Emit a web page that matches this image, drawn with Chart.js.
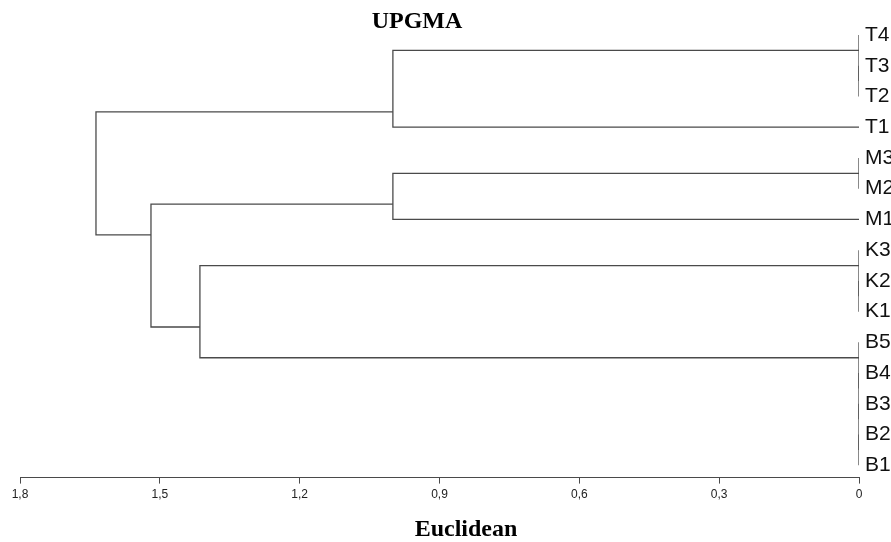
<!DOCTYPE html>
<html>
<head>
<meta charset="utf-8">
<title>UPGMA</title>
<script src="https://cdn.jsdelivr.net/npm/chart.js@4.4.1/dist/chart.umd.min.js"></script>
<style>
  html, body { margin: 0; padding: 0; background: #fff; }
  canvas { display: block; }
</style>
</head>
<body>
<canvas id="tree" width="891" height="542"></canvas>
<script>
// leaves, top to bottom
const leafNames = ['T4', 'T3', 'T2', 'T1', 'M3', 'M2', 'M1', 'K3', 'K2', 'K1', 'B5', 'B4', 'B3', 'B2', 'B1'];

// merge steps (linkage style): index < 15 is a leaf, 15 + i is the cluster from step i
const mergeA = [1, 0, 4, 8, 7, 13, 12, 11, 10, 16, 17, 19, 25, 24];
const mergeB = [2, 15, 5, 9, 18, 14, 20, 21, 22, 3, 6, 23, 26, 27];
const mergeHeight = [0, 0, 0, 0, 0, 0, 0, 0, 0, 1.0, 1.0, 1.414, 1.519, 1.637];

const xTicks = [0, 0.3, 0.6, 0.9, 1.2, 1.5, 1.8];

const nLeaves = leafNames.length;
const lineColor = '#4a4a4a';

// work out where each node sits: height and stem row
const nodeHeight = [];
const nodeRow = [];
const nodeLast = [];   // last leaf row under the node
for (let i = 0; i < nLeaves; i++) {
  nodeHeight[i] = 0;
  nodeRow[i] = i;
  nodeLast[i] = i;
}

const datasets = [];
mergeA.forEach((a, i) => {
  const b = mergeB[i];
  const id = nLeaves + i;
  const h = mergeHeight[i];
  nodeHeight[id] = h;
  nodeRow[id] = nodeLast[a] + 0.5;   // stem drawn between the two sub-clusters
  nodeLast[id] = nodeLast[b];
  datasets.push({
    data: [
      { x: nodeHeight[a], y: nodeRow[a] },
      { x: h, y: nodeRow[a] },
      { x: h, y: nodeRow[b] },
      { x: nodeHeight[b], y: nodeRow[b] }
    ],
    showLine: true,
    borderColor: lineColor,
    borderWidth: 1.3,
    pointRadius: 0,
    fill: false,
    tension: 0
  });
});

// title and axis caption
const captions = {
  id: 'captions',
  afterDraw(chart) {
    const { ctx, chartArea } = chart;
    ctx.save();
    ctx.fillStyle = '#000';
    ctx.textAlign = 'center';
    ctx.textBaseline = 'middle';
    ctx.font = 'bold 24px "Liberation Serif", "Times New Roman", serif';
    ctx.fillText('UPGMA', chartArea.left + 397, 22);
    ctx.fillText('Euclidean', chartArea.left + 446, 530);
    ctx.restore();
  }
};

new Chart(document.getElementById('tree'), {
  type: 'scatter',
  data: { datasets },
  options: {
    responsive: false,
    animation: false,
    layout: { padding: { left: 20, top: 19.65, right: 0, bottom: 36 } },
    plugins: {
      legend: { display: false },
      tooltip: { enabled: false },
      title: { display: false }
    },
    scales: {
      x: {
        type: 'linear',
        reverse: true,
        min: 0,
        max: 1.8,
        afterBuildTicks: (scale) => { scale.ticks = xTicks.map(v => ({ value: v })); },
        ticks: {
          padding: 4,
          maxRotation: 0,
          autoSkip: false,
          color: '#222',
          font: { family: '"Liberation Sans", Arial, sans-serif', size: 12 },
          callback: (v) => String(+Number(v).toFixed(1)).replace('.', ',')
        },
        grid: { display: true, drawOnChartArea: false, drawTicks: true, tickLength: 6, color: lineColor },
        border: { display: true, color: lineColor, width: 1 }
      },
      y: {
        type: 'linear',
        position: 'right',
        reverse: true,
        min: -0.5,
        max: 14.4,
        afterBuildTicks: (scale) => { scale.ticks = leafNames.map((_, i) => ({ value: i })); },
        afterFit: (scale) => { scale.width = 32; },
        ticks: {
          padding: 6,
          autoSkip: false,
          color: '#111',
          font: { family: '"Liberation Sans", Arial, sans-serif', size: 21 },
          callback: (v) => leafNames[v]
        },
        grid: { display: false, drawTicks: false },
        border: { display: false }
      }
    }
  },
  plugins: [captions]
});
</script>
</body>
</html>
